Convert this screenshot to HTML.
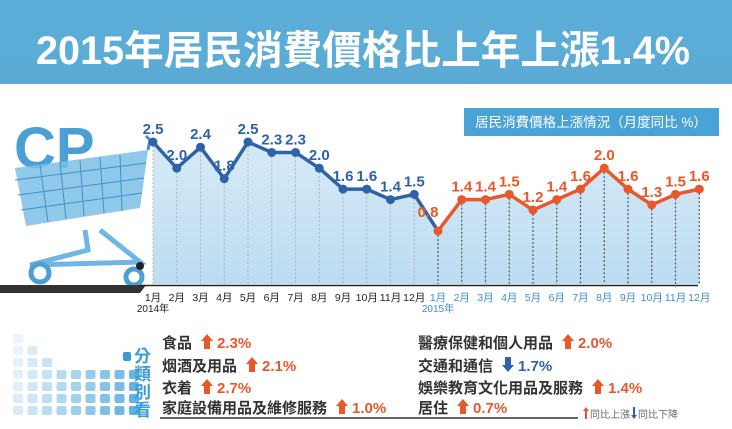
<!DOCTYPE html>
<html><head><meta charset="utf-8">
<style>
body{margin:0;width:732px;height:429px;overflow:hidden;background:#fff;font-family:"Liberation Sans","Noto Sans CJK TC",sans-serif;}
svg{display:block}
</style></head>
<body>
<svg width="732" height="429" viewBox="0 0 732 429">
<defs>
<linearGradient id="area" x1="0" y1="0" x2="0" y2="1"><stop offset="0" stop-color="#d6eaf7"/><stop offset="1" stop-color="#bcdcf1"/></linearGradient>
<linearGradient id="hdr" x1="0" y1="0" x2="0" y2="1"><stop offset="0" stop-color="#5caed8"/><stop offset="1" stop-color="#5aaad4"/></linearGradient>
</defs>
<rect x="0" y="0" width="732" height="84" fill="url(#hdr)"/>
<text x="36" y="64" textLength="654" lengthAdjust="spacingAndGlyphs" font-size="40" font-weight="bold" fill="#fff">2015年居民消費價格比上年上漲1.4%</text>

<rect x="464" y="108" width="255" height="28" fill="#4aa3d6"/>
<text x="591" y="127" text-anchor="middle" font-size="13.5" fill="#fff">居民消費價格上漲情況（月度同比 %）</text>

<g>
<text x="14" y="168" font-size="58" font-weight="bold" fill="#4aa0d4" font-family="Liberation Sans, sans-serif">CP</text>
<polygon points="15,168 148,150 140,208 26,226" fill="#7cc0e6" opacity="0.85"/>
<g stroke="#3b94cc" stroke-width="1">
<line x1="15" y1="180" x2="146" y2="163"/><line x1="18" y1="195" x2="144" y2="178"/><line x1="21" y1="210" x2="142" y2="193"/>
<line x1="40" y1="165" x2="48" y2="222"/><line x1="60" y1="162" x2="66" y2="219"/><line x1="80" y1="160" x2="84" y2="216"/><line x1="100" y1="157" x2="104" y2="213"/><line x1="120" y1="155" x2="122" y2="211"/>
</g>
<polyline points="148,150 150,140 146,136" fill="none" stroke="#3b94cc" stroke-width="3"/>
<polyline points="85,230 88,250 30,265 140,262 100,230" fill="none" stroke="#6fb7e2" stroke-width="5"/>
<circle cx="40" cy="273" r="9" fill="#fff" stroke="#4aa0d4" stroke-width="5"/>
<circle cx="134" cy="277" r="8" fill="#fff" stroke="#4aa0d4" stroke-width="5"/>
<circle cx="140" cy="266" r="4" fill="#222"/>
</g>
<polygon points="0,285 146,285 140,293 0,293" fill="#333"/>
<line x1="140" y1="285.5" x2="698" y2="285.5" stroke="#222" stroke-width="1.5"/>

<g id="chart"></g>

<g id="sq"></g>
<text font-size="17" font-weight="bold" fill="#3a9bd5">
<tspan x="134" y="362">分</tspan><tspan x="134" y="380">類</tspan><tspan x="134" y="398">別</tspan><tspan x="134" y="416">看</tspan></text>
<g font-size="15" font-weight="bold" id="cats"></g>
<line x1="160" y1="418" x2="578" y2="418" stroke="#333" stroke-width="1.5"/>
<g font-size="10" fill="#666">
<polygon points="583,411 586,407 589,411 587,411 587,419 585,419 585,411" fill="#e8582a"/>
<text x="590" y="418">同比上漲</text>
<polygon points="631,415 634,419 637,415 635,415 635,407 633,407 633,415" fill="#2d63a8"/>
<text x="638" y="418">同比下降</text>
</g>
</svg>
<script>
const ns="http://www.w3.org/2000/svg";
const months=["1月","2月","3月","4月","5月","6月","7月","8月","9月","10月","11月","12月"];
const values2014=[2.5,2.0,2.4,1.8,2.5,2.3,2.3,2.0,1.6,1.6,1.4,1.5];
const values2015=[0.8,1.4,1.4,1.5,1.2,1.4,1.6,2.0,1.6,1.3,1.5,1.6];
const catNames=["食品","烟酒及用品","衣着","家庭設備用品及維修服務","醫療保健和個人用品","交通和通信","娛樂教育文化用品及服務","居住"];
const catValues=[2.3,2.1,2.7,1.0,2.0,-1.7,1.4,0.7];
const xs=i=>153+i*23.75;
const ys=v=>142+(2.5-v)*52.35;
const baseY=284;
function mk(t,a,p){const e=document.createElementNS(ns,t);for(const k in a)e.setAttribute(k,a[k]);(p||g).appendChild(e);return e;}
const g=document.getElementById('chart');
const all=values2014.concat(values2015);
let d="M"+xs(0)+","+baseY;all.forEach((v,i)=>d+=" L"+xs(i)+","+ys(v));d+=" L"+xs(all.length-1)+","+baseY+"Z";
const area=mk('path',{d:d,fill:"url(#area)"});


all.forEach((v,i)=>{
 const l=mk('line',{x1:xs(i),y1:ys(v),x2:xs(i),y2:baseY,stroke:i<12?"#aaa":"#555","stroke-width":i<12?0.8:1.2,"stroke-dasharray":"2,2"});
 
 
});
function series(vals,off,color,name){
 const p=mk('polyline',{points:vals.map((v,i)=>xs(i+off)+","+ys(v)).join(" "),fill:"none",stroke:color,"stroke-width":3.5,"stroke-linejoin":"round"});
 
 
 vals.forEach((v,i)=>{
  const c=mk('circle',{cx:xs(i+off),cy:ys(v),r:4.5,fill:color});
  
  
  const low=(off===12&&i===0);
  const t=mk('text',{x:xs(i+off)-(low?10:0),y:ys(v)-(low?14:8),"text-anchor":"middle","font-size":15,"font-weight":"bold",fill:color});
  t.textContent=v.toFixed(1);
  
  
 });
}
const cn=mk('line',{x1:xs(11),y1:ys(values2014[11]),x2:xs(12),y2:ys(values2015[0]),stroke:"#2d63a8","stroke-width":3.5});


series(values2014,0,"#2d63a8","series-2014");
series(values2015,12,"#e8582a","series-2015");
all.forEach((v,i)=>{
 const t=mk('text',{x:xs(i),y:301,"text-anchor":"middle","font-size":10.5,fill:i<12?"#222":"#3d8fcc"});
 t.textContent=months[i%12];
 
 
});
const y1=mk('text',{x:xs(0),y:312,"text-anchor":"middle","font-size":10,fill:"#222"});y1.textContent="2014年";


const y2=mk('text',{x:xs(12),y:312,"text-anchor":"middle","font-size":10,fill:"#3d8fcc"});y2.textContent="2015年";



const sq=document.getElementById('sq');
const rowCounts=[1,2,3,9,9,9,9];
for(let r=0;r<7;r++)for(let c=0;c<rowCounts[r];c++){
 const s=mk('rect',{x:13+c*14.5,y:334+r*12,width:10,height:9,rx:2,fill:"#5aaee0",opacity:(0.12+0.09*c+0.02*r).toFixed(2)},sq);
 
 
}
const hs=mk('rect',{x:123,y:352,width:8,height:9,rx:2,fill:"#3a9bd5"},sq);


const cats=document.getElementById('cats');
const rowsY=[348,371,393,413];
catNames.forEach((n,i)=>{
 const col=i<4?0:1, r=i%4;
 const x=col?418:162, y=rowsY[r];
 const t=mk('text',{x:x,y:y,fill:"#333"},cats);t.textContent=n;
 
 
 const w=n.length*15+10;
 const up=catValues[i]>=0, ax=x+w+5;
 const a=mk('polygon',{points:up?`${ax-6},${y-7} ${ax},${y-14} ${ax+6},${y-7} ${ax+3},${y-7} ${ax+3},${y+1} ${ax-3},${y+1} ${ax-3},${y-7}`:`${ax-6},${y-6} ${ax},${y+1} ${ax+6},${y-6} ${ax+3},${y-6} ${ax+3},${y-14} ${ax-3},${y-14} ${ax-3},${y-6}`,fill:up?"#e8582a":"#2d63a8"},cats);
 
 
 const v=mk('text',{x:ax+10,y:y,fill:up?"#e8582a":"#2d63a8"},cats);v.textContent=Math.abs(catValues[i]).toFixed(1)+"%";
 
 
});
</script>
</body></html>
